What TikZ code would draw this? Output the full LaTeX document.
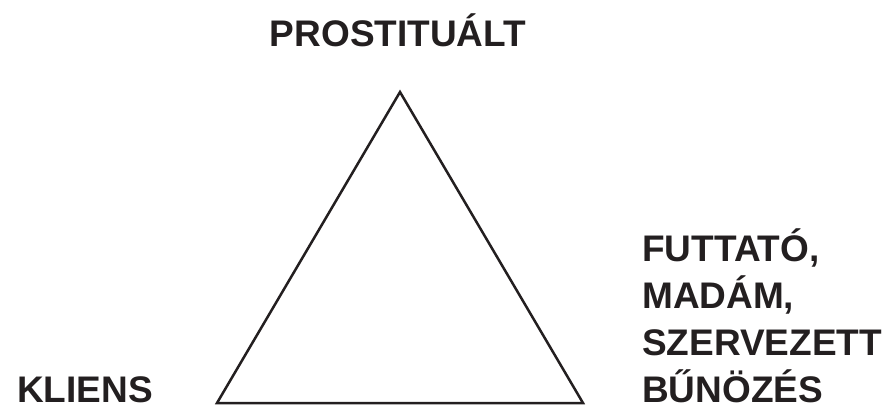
\documentclass[tikz,border=0pt]{standalone}
\usepackage{fontspec}
\setmainfont{Liberation Sans}
\usetikzlibrary{positioning}
\definecolor{ink}{HTML}{231F20}
\tikzset{label/.style={font=\bfseries\fontsize{37}{47}\selectfont,text=ink,inner sep=0pt,align=left},
  edge/.style={draw=ink,line width=2.5pt,line join=miter}}

\begin{document}
\begin{tikzpicture}[x=1pt,y=-1pt]
\useasboundingbox (0,0) rectangle (890,408);
\coordinate (apex) at (400,92);
\coordinate (left) at (217,403);
\coordinate (right) at (583,403);
\draw[edge] (apex)--(left)--(right)--cycle;
\node[label,anchor=base] (prost) at (398,46) {PROSTITUÁLT};
\node[label,anchor=base west] (kliens) at (17,402) {KLIENS};
\node[label,anchor=base west] (futtato) at (642,402) {FUTTATÓ,\\MADÁM,\\SZERVEZETT\\BŰNÖZÉS};
\end{tikzpicture}
\end{document}
